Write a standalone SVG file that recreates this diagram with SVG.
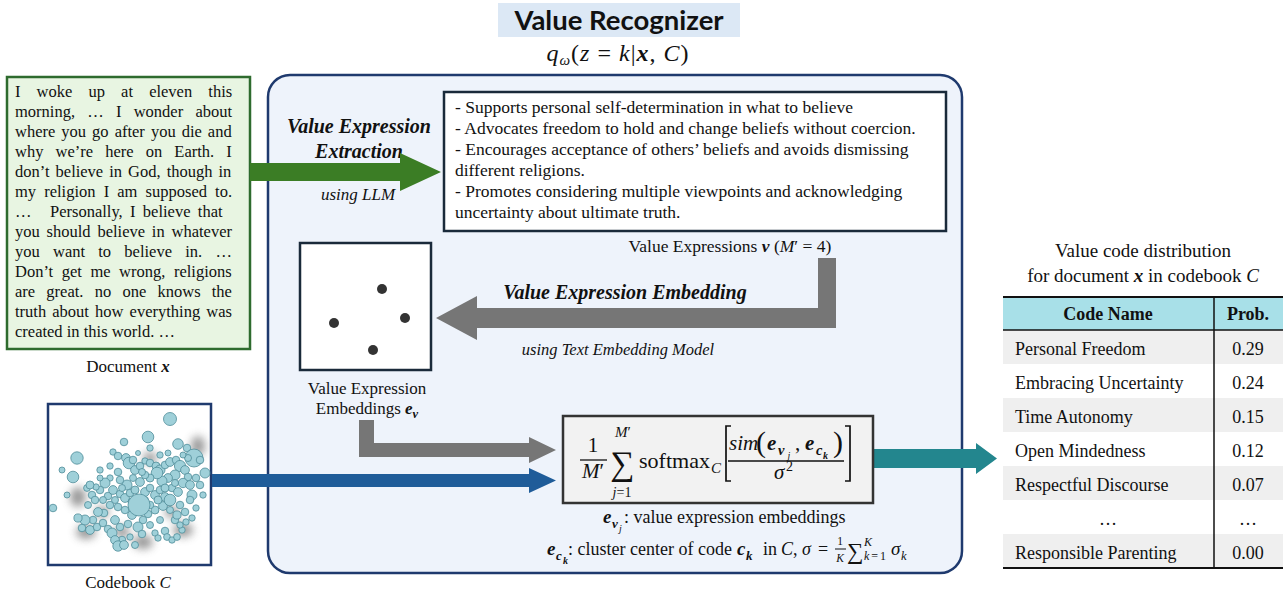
<svg xmlns="http://www.w3.org/2000/svg" width="1286" height="594" viewBox="0 0 1286 594">
<style>
.s{font-family:"Liberation Serif","Times New Roman",serif;fill:#111}
.i{font-style:italic}
.b{font-weight:bold}
.bi{font-weight:bold;font-style:italic}
.cb{fill:#9fd0d9;stroke:#4f8d99;stroke-width:0.8}
.row{fill:#efefef}
</style>
<defs>
<filter id="blur" x="-50%" y="-50%" width="200%" height="200%"><feGaussianBlur stdDeviation="4.5"/></filter>
</defs>
<rect x="0" y="0" width="1286" height="594" fill="#ffffff"/>

<g id="panel">
<rect x="268" y="75" width="694" height="498" rx="22" fill="#eef3fb" stroke="#1f3a6e" stroke-width="2.5"/>
</g>

<g id="title">
<rect x="498" y="3" width="242" height="34" fill="#dce8f5"/>
<text x="619" y="29.5" text-anchor="middle" font-family="Lato,'Open Sans',sans-serif" font-weight="bold" font-size="27.5" fill="#111">Value Recognizer</text>
<text x="618" y="61" text-anchor="middle" class="s" font-size="24" letter-spacing="1"><tspan class="i">q</tspan><tspan class="i" font-size="15" dy="4">ω</tspan><tspan dy="-4">(</tspan><tspan class="i">z</tspan> = <tspan class="i">k</tspan>|<tspan class="bi">x</tspan>, <tspan class="i">C</tspan>)</text>
</g>

<g id="document">
<rect x="7" y="77" width="243" height="272" fill="#e8f5e2" stroke="#2e6b2e" stroke-width="2.5"/>
<g class="s" font-size="16.5">
<text x="15" y="97" word-spacing="12">I woke up at eleven this</text>
<text x="15" y="117" word-spacing="8.1">morning, … I wonder about</text>
<text x="15" y="137" word-spacing="1.9">where you go after you die and</text>
<text x="15" y="157" word-spacing="8">why we’re here on Earth. I</text>
<text x="15" y="177" word-spacing="1.9">don’t believe in God, though in</text>
<text x="15" y="197" word-spacing="4">my religion I am supposed to.</text>
<text x="15" y="217">…</text>
<text x="50" y="217" word-spacing="3.2">Personally, I believe that</text>
<text x="15" y="237" word-spacing="2.7">you should believe in whatever</text>
<text x="15" y="257" word-spacing="9.1">you want to believe in. …</text>
<text x="15" y="277" word-spacing="4.4">Don’t get me wrong, religions</text>
<text x="15" y="297" word-spacing="7.1">are great. no one knows the</text>
<text x="15" y="317" word-spacing="2">truth about how everything was</text>
<text x="15" y="337">created in this world. …</text>
</g>
<text x="128" y="372" text-anchor="middle" class="s" font-size="17">Document <tspan class="bi">x</tspan></text>
</g>

<g id="extraction-label">
<text x="359" y="133" text-anchor="middle" class="s bi" font-size="20">Value Expression</text>
<text x="359" y="158" text-anchor="middle" class="s bi" font-size="20">Extraction</text>
<text x="358" y="200" text-anchor="middle" class="s i" font-size="17">using LLM</text>
</g>

<g id="value-expressions">
<rect x="444" y="92" width="502" height="139" fill="#ffffff" stroke="#1a2a3a" stroke-width="2.5"/>
<g class="s" font-size="17.5">
<text x="455" y="113">- Supports personal self-determination in what to believe</text>
<text x="455" y="134">- Advocates freedom to hold and change beliefs without coercion.</text>
<text x="455" y="155">- Encourages acceptance of others’ beliefs and avoids dismissing</text>
<text x="455" y="176">different religions.</text>
<text x="455" y="197">- Promotes considering multiple viewpoints and acknowledging</text>
<text x="455" y="218">uncertainty about ultimate truth.</text>
</g>
<text x="730" y="252" text-anchor="middle" class="s" font-size="17.5">Value Expressions <tspan class="bi">v</tspan> (<tspan class="i">M</tspan>′ = 4)</text>
</g>

<g id="embedding-label">
<text x="625" y="299" text-anchor="middle" class="s bi" font-size="20">Value Expression Embedding</text>
<text x="618" y="355" text-anchor="middle" class="s i" font-size="16.5">using Text Embedding Model</text>
</g>

<g id="embeddings">
<rect x="300" y="243" width="131" height="127" fill="#ffffff" stroke="#1a2a3a" stroke-width="2.5"/>
<g fill="#333333">
<circle cx="382" cy="289" r="5"/>
<circle cx="334" cy="323" r="5"/>
<circle cx="405" cy="318" r="5"/>
<circle cx="373" cy="350" r="5"/>
</g>
<text x="367" y="394" text-anchor="middle" class="s" font-size="17">Value Expression</text>
<text x="367" y="414" text-anchor="middle" class="s" font-size="17">Embeddings <tspan class="bi">e</tspan><tspan class="bi" font-size="12.5" dy="4">v</tspan></text>
</g>

<g id="codebook">
<rect x="48" y="404" width="163" height="161" fill="#ffffff" stroke="#1f3a6e" stroke-width="2.5"/>
<g fill="#777777" opacity="0.75" filter="url(#blur)">
<ellipse cx="78" cy="497" rx="8" ry="10"/>
<ellipse cx="86" cy="532" rx="10" ry="7"/>
<ellipse cx="143" cy="542" rx="10" ry="7"/>
<ellipse cx="183" cy="530" rx="10" ry="7"/>
<ellipse cx="198" cy="446" rx="7" ry="10"/>
<ellipse cx="102" cy="512" rx="7" ry="6"/>
<ellipse cx="122" cy="532" rx="8" ry="6"/>
<ellipse cx="150" cy="458" rx="7" ry="6"/>
<ellipse cx="172" cy="512" rx="7" ry="6"/>
</g>
<g class="cb">
<circle cx="170" cy="419" r="6.5"/><circle cx="148" cy="437" r="5.8"/><circle cx="178" cy="444" r="5.3"/><circle cx="187" cy="448" r="3.8"/>
<circle cx="194" cy="458" r="9"/><circle cx="124" cy="442" r="3.8"/><circle cx="77" cy="458" r="6.2"/><circle cx="73" cy="477" r="5.8"/>
<circle cx="53" cy="508" r="3.8"/><circle cx="205" cy="473" r="5"/><circle cx="192" cy="495" r="5"/><circle cx="62" cy="470" r="3"/><circle cx="67" cy="495" r="3"/>
<circle cx="113" cy="452" r="3.2"/><circle cx="118" cy="456" r="3.8"/><circle cx="126" cy="458" r="4.4"/><circle cx="129" cy="463" r="5.8"/>
<circle cx="133" cy="460" r="3.8"/><circle cx="135" cy="470" r="4.4"/><circle cx="140" cy="466" r="3.8"/><circle cx="145" cy="461" r="3.2"/>
<circle cx="150" cy="463" r="3.8"/><circle cx="156" cy="466" r="4"/><circle cx="160" cy="470" r="5"/><circle cx="165" cy="465" r="3.8"/>
<circle cx="170" cy="462" r="4.4"/><circle cx="176" cy="460" r="3.8"/><circle cx="180" cy="466" r="5.6"/><circle cx="185" cy="470" r="4.4"/>
<circle cx="188" cy="477" r="3.8"/><circle cx="183" cy="483" r="4.7"/><circle cx="190" cy="485" r="4.4"/><circle cx="196" cy="478" r="3.8"/>
<circle cx="200" cy="485" r="3.8"/><circle cx="175" cy="475" r="5"/><circle cx="168" cy="478" r="4.4"/><circle cx="162" cy="481" r="5"/>
<circle cx="157" cy="473" r="5.8"/><circle cx="150" cy="478" r="4"/><circle cx="145" cy="475" r="3.8"/><circle cx="140" cy="482" r="4.4"/>
<circle cx="133" cy="478" r="3.5"/><circle cx="127" cy="485" r="5"/><circle cx="120" cy="480" r="3.8"/><circle cx="118" cy="472" r="3.8"/>
<circle cx="110" cy="478" r="3.2"/><circle cx="105" cy="483" r="5"/><circle cx="100" cy="490" r="3.8"/><circle cx="96" cy="487" r="3.2"/>
<circle cx="92" cy="495" r="3.8"/><circle cx="87" cy="488" r="3.4"/><circle cx="90" cy="485" r="4"/><circle cx="95" cy="500" r="3.8"/>
<circle cx="108" cy="496" r="3.8"/><circle cx="113" cy="490" r="4.4"/><circle cx="120" cy="494" r="3.8"/><circle cx="125" cy="498" r="4.4"/>
<circle cx="130" cy="493" r="3.8"/><circle cx="135" cy="490" r="4"/><circle cx="145" cy="492" r="4.4"/>
<circle cx="150" cy="488" r="3.8"/><circle cx="155" cy="495" r="4.4"/><circle cx="160" cy="490" r="3.8"/><circle cx="165" cy="497" r="4.4"/>
<circle cx="172" cy="488" r="3.8"/><circle cx="178" cy="492" r="4.4"/><circle cx="180" cy="505" r="3.8"/>
<circle cx="185" cy="512" r="3.8"/><circle cx="163" cy="506" r="4.4"/><circle cx="155" cy="510" r="4"/><circle cx="150" cy="505" r="3.8"/>
<circle cx="148" cy="514" r="3.8"/><circle cx="143" cy="520" r="3.8"/><circle cx="132" cy="515" r="4.4"/><circle cx="125" cy="510" r="3.8"/>
<circle cx="118" cy="507" r="3.8"/><circle cx="110" cy="505" r="3.8"/><circle cx="104" cy="513" r="3.8"/><circle cx="98" cy="512" r="4.4"/>
<circle cx="93" cy="520" r="3.8"/><circle cx="85" cy="520" r="5"/><circle cx="78" cy="518" r="4.1"/><circle cx="82" cy="528" r="3.8"/>
<circle cx="90" cy="530" r="4.4"/><circle cx="97" cy="527" r="3.8"/><circle cx="103" cy="523" r="3.8"/><circle cx="108" cy="529" r="3.8"/>
<circle cx="115" cy="520" r="4.4"/><circle cx="112" cy="533" r="5"/><circle cx="120" cy="527" r="3.8"/><circle cx="128" cy="524" r="3.8"/>
<circle cx="138" cy="527" r="5"/><circle cx="142" cy="534" r="3.8"/><circle cx="130" cy="537" r="3.2"/><circle cx="122" cy="540" r="3.8"/>
<circle cx="115" cy="540" r="4.4"/><circle cx="118" cy="546" r="5.2"/><circle cx="124" cy="545" r="4.4"/><circle cx="155" cy="533" r="3.2"/>
<circle cx="158" cy="538" r="3.2"/><circle cx="165" cy="531" r="3.8"/><circle cx="167" cy="537" r="3.4"/><circle cx="172" cy="540" r="3.2"/>
<circle cx="177" cy="537" r="3.4"/><circle cx="182" cy="530" r="3.2"/><circle cx="186" cy="522" r="3.2"/><circle cx="192" cy="518" r="3.2"/>
<circle cx="175" cy="520" r="3.8"/><circle cx="177" cy="515" r="4.1"/><circle cx="180" cy="525" r="3.2"/><circle cx="138" cy="453" r="2.5"/>
<circle cx="110" cy="466" r="3.2"/><circle cx="100" cy="470" r="3.2"/><circle cx="150" cy="448" r="3.2"/><circle cx="160" cy="455" r="3.2"/>
<circle cx="200" cy="460" r="3.8"/><circle cx="203" cy="495" r="3.2"/><circle cx="190" cy="500" r="3.8"/><circle cx="196" cy="508" r="3.2"/>
<circle cx="165" cy="488" r="4"/><circle cx="175" cy="483" r="3.5"/><circle cx="158" cy="500" r="4"/><circle cx="145" cy="500" r="3.5"/>
<circle cx="132" cy="502" r="4"/><circle cx="122" cy="488" r="3.5"/><circle cx="115" cy="500" r="3.5"/><circle cx="103" cy="500" r="3.5"/>
<circle cx="88" cy="505" r="3.5"/><circle cx="170" cy="510" r="3.5"/><circle cx="160" cy="520" r="3.5"/><circle cx="150" cy="525" r="3.5"/>
<circle cx="135" cy="545" r="3.5"/><circle cx="188" cy="458" r="3.5"/><circle cx="183" cy="455" r="3"/><circle cx="168" cy="453" r="3"/>
<circle cx="142" cy="472" r="3.5"/><circle cx="100" cy="478" r="3"/>
<circle cx="170" cy="500" r="5.8"/><circle cx="139" cy="505" r="11"/>
</g>
<text x="128" y="588" text-anchor="middle" class="s" font-size="17">Codebook <tspan class="i">C</tspan></text>
</g>

<g id="connectors">
<polygon points="250,163 400,163 400,153 441,172 400,191 400,181 250,181" fill="#3b7d25"/>
<path d="M836,258 L836,328 L477,328 L477,340 L436,318 L477,296 L477,308 L818,308 L818,258 Z" fill="#767676"/>
<path d="M359,420 L374,420 L374,443 L529,443 L529,437 L556,450 L529,463 L529,457 L359,457 Z" fill="#767676"/>
<path d="M212,474 L529,474 L529,468 L556,480.5 L529,493 L529,487 L212,487 Z" fill="#1f5c99"/>
<path d="M874,449 L976,449 L976,443 L997,458.5 L976,474 L976,468 L874,468 Z" fill="#23868e"/>
</g>

<g id="formula">
<rect x="563" y="416" width="310" height="87" fill="#f2f2f2" stroke="#333333" stroke-width="2.5"/>
<g class="s">
<text x="593" y="452" text-anchor="middle" font-size="21">1</text>
<line x1="580" y1="460" x2="607" y2="460" stroke="#111" stroke-width="1.3"/>
<text x="593" y="478" text-anchor="middle" font-size="21"><tspan class="i">M</tspan>′</text>
<text x="622" y="475" text-anchor="middle" font-size="34">∑</text>
<text x="623" y="437" text-anchor="middle" font-size="15"><tspan class="i">M</tspan>′</text>
<text x="622" y="497" text-anchor="middle" font-size="14"><tspan class="i">j</tspan>=1</text>
<text x="639" y="468" font-size="21" textLength="71" lengthAdjust="spacingAndGlyphs">softmax</text>
<text x="711" y="473" class="i" font-size="15">C</text>
<path d="M731,426 L726,426 L726,481 L731,481" fill="none" stroke="#111" stroke-width="1.7"/>
<path d="M845,426 L850,426 L850,481 L845,481" fill="none" stroke="#111" stroke-width="1.7"/>
<text x="729" y="450" class="i" font-size="21">sim</text>
<text x="756" y="452" font-size="30">(</text>
<text x="767" y="450" class="bi" font-size="21">e</text>
<text x="778" y="455" class="bi" font-size="14.5">v</text>
<text x="787.5" y="458.5" class="i" font-size="10">j</text>
<text x="795" y="450" font-size="21">,</text>
<text x="805" y="450" class="bi" font-size="21">e</text>
<text x="816" y="455" class="bi" font-size="14.5">c</text>
<text x="823" y="458.5" class="bi" font-size="10">k</text>
<text x="833" y="452" font-size="30">)</text>
<line x1="728" y1="461" x2="844" y2="461" stroke="#111" stroke-width="1.3"/>
<text x="774" y="479" class="i" font-size="21">σ</text>
<text x="786" y="471" font-size="14">2</text>
</g>
</g>

<g id="legend" class="s">
<text x="603" y="523" class="bi" font-size="19">e</text>
<text x="612" y="528" class="bi" font-size="13">v</text>
<text x="619" y="532" class="i" font-size="10">j</text>
<text x="624" y="523" font-size="18">: value expression embeddings</text>
<text x="547" y="555" class="bi" font-size="19">e</text>
<text x="556" y="560" class="bi" font-size="13">c</text>
<text x="563" y="564" class="bi" font-size="10">k</text>
<text x="568" y="555" font-size="18" xml:space="preserve">: cluster center of code </text>
<text x="737" y="555" class="bi" font-size="19">c</text>
<text x="746" y="560" class="bi" font-size="13">k</text>
<text x="763" y="555" font-size="18">in</text>
<text x="781" y="555" class="i" font-size="18">C</text>
<text x="793" y="555" font-size="18">,</text>
<text x="802" y="555" class="i" font-size="18">σ</text>
<text x="818" y="555" font-size="18">=</text>
<text x="840" y="545" text-anchor="middle" font-size="11.5">1</text>
<line x1="835" y1="549" x2="846" y2="549" stroke="#111" stroke-width="1"/>
<text x="840" y="562" text-anchor="middle" class="i" font-size="11.5">K</text>
<text x="847" y="559" font-size="23">∑</text>
<text x="864" y="546" class="i" font-size="12">K</text>
<text x="864" y="560" font-size="12" letter-spacing="2"><tspan class="i">k</tspan>=1</text>
<text x="891" y="555" class="i" font-size="19">σ</text>
<text x="901" y="560" class="i" font-size="12.5">k</text>
</g>

<g id="table" class="s">
<text x="1143" y="257" text-anchor="middle" font-size="19">Value code distribution</text>
<text x="1143" y="282" text-anchor="middle" font-size="19">for document <tspan class="bi">x</tspan> in codebook <tspan class="i">C</tspan></text>
<rect x="1003" y="297" width="280" height="33" fill="#a8e0e8"/>
<rect x="1003" y="330" width="280" height="34" class="row"/>
<rect x="1003" y="398" width="280" height="34" class="row"/>
<rect x="1003" y="466" width="280" height="34" class="row"/>
<rect x="1003" y="534" width="280" height="34" class="row"/>
<line x1="1003" y1="297" x2="1283" y2="297" stroke="#111" stroke-width="2"/>
<line x1="1003" y1="330" x2="1283" y2="330" stroke="#111" stroke-width="1.3"/>
<line x1="1003" y1="568" x2="1283" y2="568" stroke="#111" stroke-width="2"/>
<line x1="1214" y1="297" x2="1214" y2="568" stroke="#111" stroke-width="1.5"/>
<text x="1108" y="320" text-anchor="middle" class="b" font-size="18">Code Name</text>
<text x="1248" y="320" text-anchor="middle" class="b" font-size="18">Prob.</text>
<g font-size="18">
<text x="1015" y="355">Personal Freedom</text>
<text x="1015" y="389">Embracing Uncertainty</text>
<text x="1015" y="423">Time Autonomy</text>
<text x="1015" y="457">Open Mindedness</text>
<text x="1015" y="491">Respectful Discourse</text>
<text x="1108" y="525" text-anchor="middle">…</text>
<text x="1015" y="559">Responsible Parenting</text>
</g>
<g font-size="18" text-anchor="middle">
<text x="1248" y="355">0.29</text>
<text x="1248" y="389">0.24</text>
<text x="1248" y="423">0.15</text>
<text x="1248" y="457">0.12</text>
<text x="1248" y="491">0.07</text>
<text x="1248" y="525">…</text>
<text x="1248" y="559">0.00</text>
</g>
</g>
</svg>
